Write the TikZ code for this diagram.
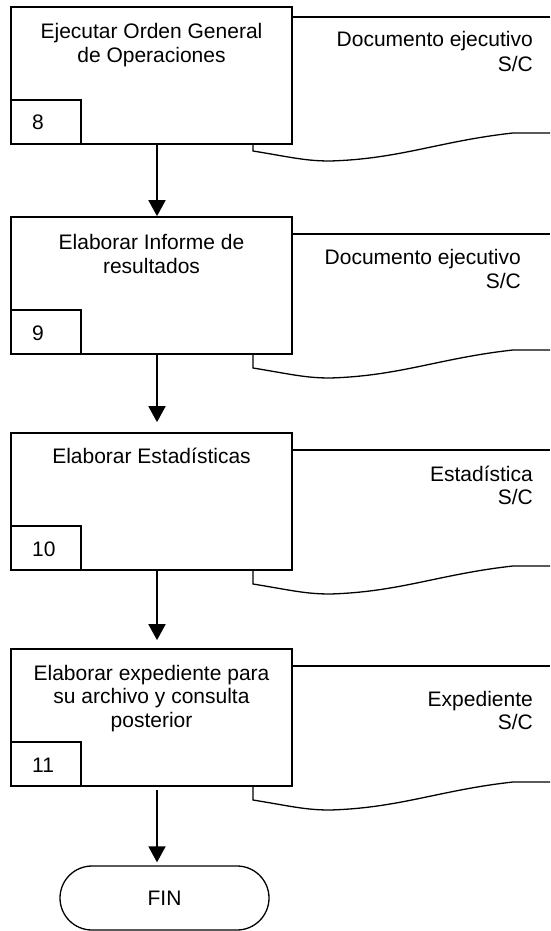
\documentclass[tikz,border=0pt]{standalone}
\usepackage{fontspec}
\setmainfont{Liberation Sans}
\usetikzlibrary{arrows.meta}
\newcommand\docshp[2]{% #1 = top line y, #2 = box bottom y
  \draw[doc] (292,#1) -- (550,#1);
  \draw[doc] (253,#2) -- (253,#1+134) .. controls (290,#1+140) and (305,#1+144) .. (330,#1+144)
     .. controls (400,#1+142) and (440,#1+124) .. (513,#1+116) -- (550,#1+116);
}
\begin{document}
\begin{tikzpicture}[x=1pt,y=-1pt,
  font=\fontsize{21}{23.5}\selectfont,
  box/.style={draw, line width=1.7pt, minimum width=281pt, minimum height=137pt, inner sep=0pt},
  numbox/.style={draw, line width=1.7pt, minimum width=70pt, minimum height=44pt, inner sep=0pt, anchor=south west},
  txt/.style={anchor=base, inner sep=0pt},
  rtxt/.style={anchor=base east, inner sep=0pt},
  ntxt/.style={anchor=base west, inner sep=0pt},
  doc/.style={line width=1.3pt},
  arr/.style={line width=1.8pt, -{Triangle[width=17pt,length=16pt]}},
  term/.style={draw, line width=1.3pt, minimum width=209pt, minimum height=64pt, rounded corners=32pt, inner sep=0pt}]
\useasboundingbox (0,0) rectangle (550,931);

% document shapes
\docshp{17}{144}
\docshp{234}{354}
\docshp{450}{570}
\docshp{666}{786}

% process boxes
\node[box] (b1) at (151.5,75.5) {};
\node[box] (b2) at (151.5,285.5) {};
\node[box] (b3) at (151.5,501.5) {};
\node[box] (b4) at (151.5,717.5) {};

% number boxes
\node[numbox] (n1) at (b1.south west) {};
\node[numbox] (n2) at (b2.south west) {};
\node[numbox] (n3) at (b3.south west) {};
\node[numbox] (n4) at (b4.south west) {};
\node[ntxt] (n1t) at (32,130) {8};
\node[ntxt] (n2t) at (32,340) {9};
\node[ntxt] (n3t) at (32,556) {10};
\node[ntxt] (n4t) at (32,772) {11};

% box texts
\node[txt] (b1l1) at (151.5,39) {Ejecutar Orden General};
\node[txt] (b1l2) at (151.5,63) {de Operaciones};
\node[txt] (b2l1) at (151.5,249) {Elaborar Informe de};
\node[txt] (b2l2) at (151.5,273) {resultados};
\node[txt] (b3l1) at (151.5,463) {Elaborar Estadísticas};
\node[txt] (b4l1) at (151.5,680) {Elaborar expediente para};
\node[txt] (b4l2) at (151.5,703) {su archivo y consulta};
\node[txt] (b4l3) at (151.5,727) {posterior};

% document texts
\node[rtxt] (d1a) at (533,47) {Documento ejecutivo};
\node[rtxt] (d1b) at (533,72) {S/C};
\node[rtxt] (d2a) at (521,264) {Documento ejecutivo};
\node[rtxt] (d2b) at (521,288) {S/C};
\node[rtxt] (d3a) at (533,481) {Estadística};
\node[rtxt] (d3b) at (533,504) {S/C};
\node[rtxt] (d4a) at (533,706) {Expediente};
\node[rtxt] (d4b) at (533,729) {S/C};

% terminal
\node[term] (fin) at (164.5,898) {FIN};

% arrows
\draw[arr] ([xshift=5.5pt]b1.south) -- ([xshift=5.5pt]b2.north);
\draw[arr, shorten >=10pt] ([xshift=5.5pt]b2.south) -- ([xshift=5.5pt]b3.north);
\draw[arr, shorten >=8pt] ([xshift=5.5pt]b3.south) -- ([xshift=5.5pt]b4.north);
\draw[arr, shorten <=3pt, shorten >=3pt] ([xshift=5.5pt]b4.south) -- ([xshift=5.5pt]b4.south |- fin.north);
\end{tikzpicture}
\end{document}
